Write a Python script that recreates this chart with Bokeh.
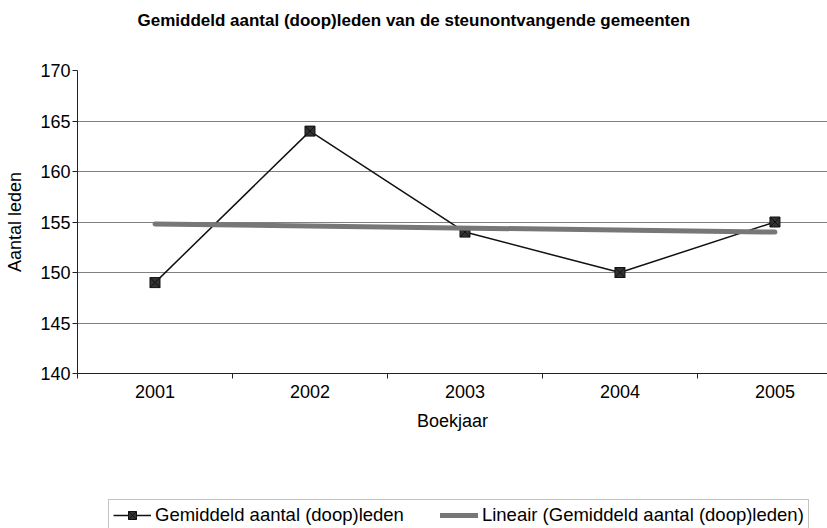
from bokeh.plotting import figure
from bokeh.models import FixedTicker, Legend, LegendItem, Title
from bokeh.layouts import column
from bokeh.embed import file_html
from bokeh.resources import INLINE

years = [2001, 2002, 2003, 2004, 2005]
members = [149, 164, 154, 150, 155]
trend_years = [2001, 2005]
trend_values = [154.8, 154.0]
y_ticks = [140, 145, 150, 155, 160, 165, 170]

series_label = "Gemiddeld aantal (doop)leden"
trend_label = "Lineair (Gemiddeld aantal (doop)leden)"
title_text = "Gemiddeld aantal (doop)leden van de steunontvangende gemeenten"

FONT = "Liberation Sans"
LINE_COLOR = "#111111"
MARKER_FILL = "#333333"
TREND_COLOR = "#777777"

p = figure(width=827, height=472, output_backend="svg", toolbar_location=None,
           x_range=(2000.5, 2005.339), y_range=(140, 170),
           min_border_left=77, min_border_right=0, min_border_top=70, min_border_bottom=99)
p.outline_line_color = None
p.background_fill_color = "white"
p.border_fill_color = "white"

# spacer between chart frame and title (closest to the frame), then the title
spacer = Title(text=" ", text_font=FONT, text_font_size="10px", standoff=18)
p.add_layout(spacer, "above")
t = Title(text=title_text, text_font=FONT, text_font_size="17px", text_font_style="bold",
          align="left", offset=60, vertical_align="top", standoff=16, text_color="black")
p.add_layout(t, "above")

# grid
p.xgrid.grid_line_color = None
p.ygrid.ticker = FixedTicker(ticks=y_ticks)
p.ygrid.grid_line_color = "#808080"
p.ygrid.grid_line_width = 1

# y axis
p.yaxis.ticker = FixedTicker(ticks=y_ticks)
p.yaxis.axis_label = "Aantal leden"
p.yaxis.axis_label_text_font = FONT
p.yaxis.axis_label_text_font_size = "18px"
p.yaxis.axis_label_text_font_style = "normal"
p.yaxis.axis_label_text_color = "black"
p.yaxis.axis_label_standoff = 12
p.yaxis.major_label_text_font = FONT
p.yaxis.major_label_text_font_size = "18px"
p.yaxis.major_label_text_color = "black"
p.yaxis.major_label_standoff = 2
p.yaxis.major_tick_out = 5
p.yaxis.major_tick_in = 0
p.yaxis.minor_tick_line_color = None
p.yaxis.axis_line_color = "#222222"
p.yaxis.major_tick_line_color = "#222222"

# x axis (bounds span the full category band so the label centres like the original)
p.xaxis.ticker = FixedTicker(ticks=years, minor_ticks=[2000.5, 2001.5, 2002.5, 2003.5, 2004.5])
p.xaxis.bounds = (2000.5, 2005.5)
p.xaxis.axis_label = "Boekjaar"
p.xaxis.axis_label_text_font = FONT
p.xaxis.axis_label_text_font_size = "18px"
p.xaxis.axis_label_text_font_style = "normal"
p.xaxis.axis_label_text_color = "black"
p.xaxis.axis_label_standoff = 10
p.xaxis.major_label_text_font = FONT
p.xaxis.major_label_text_font_size = "18px"
p.xaxis.major_label_text_color = "black"
p.xaxis.major_label_standoff = 6
p.xaxis.major_tick_line_color = None
p.xaxis.major_tick_out = 0
p.xaxis.major_tick_in = 0
p.xaxis.minor_tick_out = 5
p.xaxis.minor_tick_in = 0
p.xaxis.minor_tick_line_color = "#222222"
p.xaxis.axis_line_color = "#222222"

# data
p.line(years, members, line_color=LINE_COLOR, line_width=1.5)
p.scatter(years, members, marker="square_x", size=10,
          fill_color=MARKER_FILL, line_color=LINE_COLOR, line_width=1)
p.line(trend_years, trend_values, line_color=TREND_COLOR, line_width=5, line_cap="round")

# legend strip (separate figure so the legend is not clipped by the chart frame);
# its renderers use the same data but lie outside this strip's ranges
lg = figure(width=827, height=56, output_backend="svg", toolbar_location=None,
            x_range=(0, 1), y_range=(0, 1),
            min_border_left=0, min_border_right=0, min_border_top=0, min_border_bottom=0)
lg.axis.visible = False
lg.grid.visible = False
lg.outline_line_color = None
lg.background_fill_color = "white"
lg.border_fill_color = "white"
l_ln = lg.line(years, members, line_color=LINE_COLOR, line_width=1.5)
l_mk = lg.scatter(years, members, marker="square_x", size=10,
                  fill_color=MARKER_FILL, line_color=LINE_COLOR, line_width=1)
l_tr = lg.line(trend_years, trend_values, line_color=TREND_COLOR, line_width=5, line_cap="round")

legend = Legend(items=[
    LegendItem(label=series_label, renderers=[l_ln, l_mk]),
    LegendItem(label=trend_label, renderers=[l_tr]),
], orientation="horizontal", location=(31, -3),
    label_text_font=FONT, label_text_font_size="18.5px", label_text_color="black",
    glyph_width=38, glyph_height=20, label_standoff=4, spacing=36, padding=4, margin=0,
    border_line_color="#888888", border_line_width=1,
    background_fill_color="white", background_fill_alpha=1)
lg.add_layout(legend, "center")

layout = column(p, lg, spacing=0)
open("out.html", "w").write(file_html(layout, INLINE))
